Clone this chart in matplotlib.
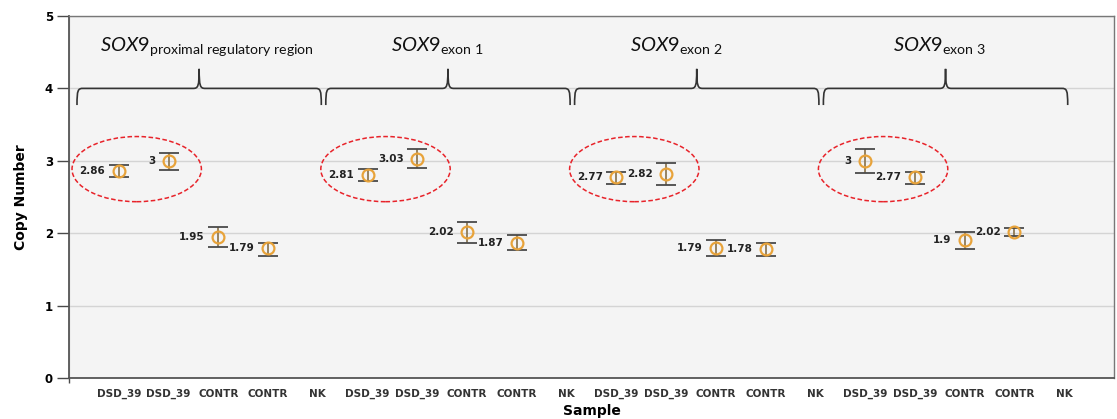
import matplotlib.pyplot as plt
import numpy as np
from matplotlib.path import Path
from matplotlib.patches import PathPatch, Ellipse

# categories along x (4 regions x 5 samples)
samples = ['DSD_39', 'DSD_39', 'CONTR', 'CONTR', 'NK']
regions = ['proximal regulatory region', 'exon 1', 'exon 2', 'exon 3']

# copy number, lower and upper error bounds (NK has no value)
cn_mean = [[2.86, 3.00, 1.95, 1.79],
           [2.81, 3.03, 2.02, 1.87],
           [2.77, 2.82, 1.79, 1.78],
           [3.00, 2.77, 1.90, 2.02]]
cn_low = [[2.78, 2.87, 1.81, 1.69],
          [2.72, 2.90, 1.87, 1.77],
          [2.68, 2.67, 1.68, 1.68],
          [2.83, 2.68, 1.78, 1.96]]
cn_high = [[2.94, 3.11, 2.08, 1.87],
           [2.89, 3.16, 2.15, 1.97],
           [2.85, 2.97, 1.90, 1.87],
           [3.16, 2.85, 2.02, 2.07]]
value_labels = [['2.86', '3', '1.95', '1.79'],
                ['2.81', '3.03', '2.02', '1.87'],
                ['2.77', '2.82', '1.79', '1.78'],
                ['3', '2.77', '1.9', '2.02']]

orange = '#E8A33A'
dark = '#4a4a4a'

plt.rcParams['mathtext.fontset'] = 'custom'
plt.rcParams['mathtext.it'] = 'Lato:italic'
plt.rcParams['mathtext.rm'] = 'Lato'

fig = plt.figure(figsize=(11.17, 4.19), dpi=100)
ax = fig.add_axes([0.0618, 0.0979, 0.9355, 0.8639])
ax.set_facecolor('#f4f4f4')

n_s = len(samples)
for g in range(len(regions)):
    base = g * n_s
    xs = np.arange(1, 5) + base
    m = np.array(cn_mean[g])
    lo = m - np.array(cn_low[g])
    hi = np.array(cn_high[g]) - m
    eb = ax.errorbar(xs, m, yerr=[lo, hi], fmt='none', ecolor='#8f7a55',
                     elinewidth=1.3, capsize=7.5, capthick=1.3, zorder=3)
    for cap in eb[1]:
        cap.set_markeredgecolor(dark)
    ax.plot(xs, m, 'o', ms=8.5, mfc='none', mec=orange, mew=1.6, zorder=4)
    for x, v, s in zip(xs, m, value_labels[g]):
        ax.text(x - 0.27, v, s, ha='right', va='center', fontsize=7.5,
                fontweight='bold', color='#222222', zorder=5)

    # red dashed ellipse round the DSD_39 pair
    ax.add_patch(Ellipse((base + 1.36, 2.885), 2.6, 0.9, fill=False,
                         ec='#e8232a', ls=(0, (3, 1.6)), lw=1.1, zorder=2))

    # curly brace over region
    x0, x1 = base + 0.16, base + 5.07
    xm = (x0 + x1) / 2
    yb, yl, yp = 4.0, 3.77, 4.27
    dx = 0.12
    verts = [(x0, yl), (x0, yb - 0.02), (x0 + 0.02, yb), (x0 + dx, yb),
             (xm - dx, yb),
             (xm - 0.02, yb), (xm, yb + 0.03), (xm, yp),
             (xm, yb + 0.03), (xm + 0.02, yb), (xm + dx, yb),
             (x1 - dx, yb),
             (x1 - 0.02, yb), (x1, yb - 0.02), (x1, yl)]
    codes = [Path.MOVETO, Path.CURVE4, Path.CURVE4, Path.CURVE4,
             Path.LINETO,
             Path.CURVE4, Path.CURVE4, Path.CURVE4,
             Path.CURVE4, Path.CURVE4, Path.CURVE4,
             Path.LINETO,
             Path.CURVE4, Path.CURVE4, Path.CURVE4]
    ax.add_patch(PathPatch(Path(verts, codes), fill=False, ec='#333333',
                           lw=1.2, zorder=2))

title_x = [2.78, 7.4, 12.2, 17.5]
for tx, r in zip(title_x, regions):
    sub = r.replace(' ', r'\ ')
    ax.text(tx, 4.52, r'$\mathit{SOX9}_{\mathrm{' + sub + '}}$', ha='center',
            va='baseline', fontsize=14.5, color='#111111', zorder=5)

ax.set_xlim(0, 21)
ax.set_ylim(0, 5)
ax.set_xticks(np.arange(1, 21))
ax.set_xticklabels(samples * len(regions), fontsize=7.5, fontweight='bold',
                   color='#333333')
ax.tick_params(axis='x', which='major', length=0, pad=8)
ax.set_xticks(np.arange(0, 21, 5), minor=True)
ax.tick_params(axis='x', which='minor', length=3.6, color=dark, width=1)
ax.set_yticks(np.arange(0, 6))
ax.set_yticklabels([str(i) for i in range(6)], fontsize=8.5, fontweight='bold')
ax.tick_params(axis='y', length=8.6, color=dark, width=1, pad=3)
ax.grid(axis='y', color='#d4d4d4', lw=1)
ax.grid(axis='x', which='minor', color='#d4d4d4', lw=1)
ax.set_axisbelow(True)
for side, sp in ax.spines.items():
    sp.set_color('#555555' if side in ('left', 'bottom') else '#777777')
    sp.set_linewidth(1.3 if side in ('left', 'bottom') else 1.0)

ax.set_ylabel('Copy Number', fontsize=10, fontweight='bold', labelpad=12)
ax.set_xlabel('Sample', fontsize=10, fontweight='bold', labelpad=3)

fig.savefig('out.png', dpi=100)
